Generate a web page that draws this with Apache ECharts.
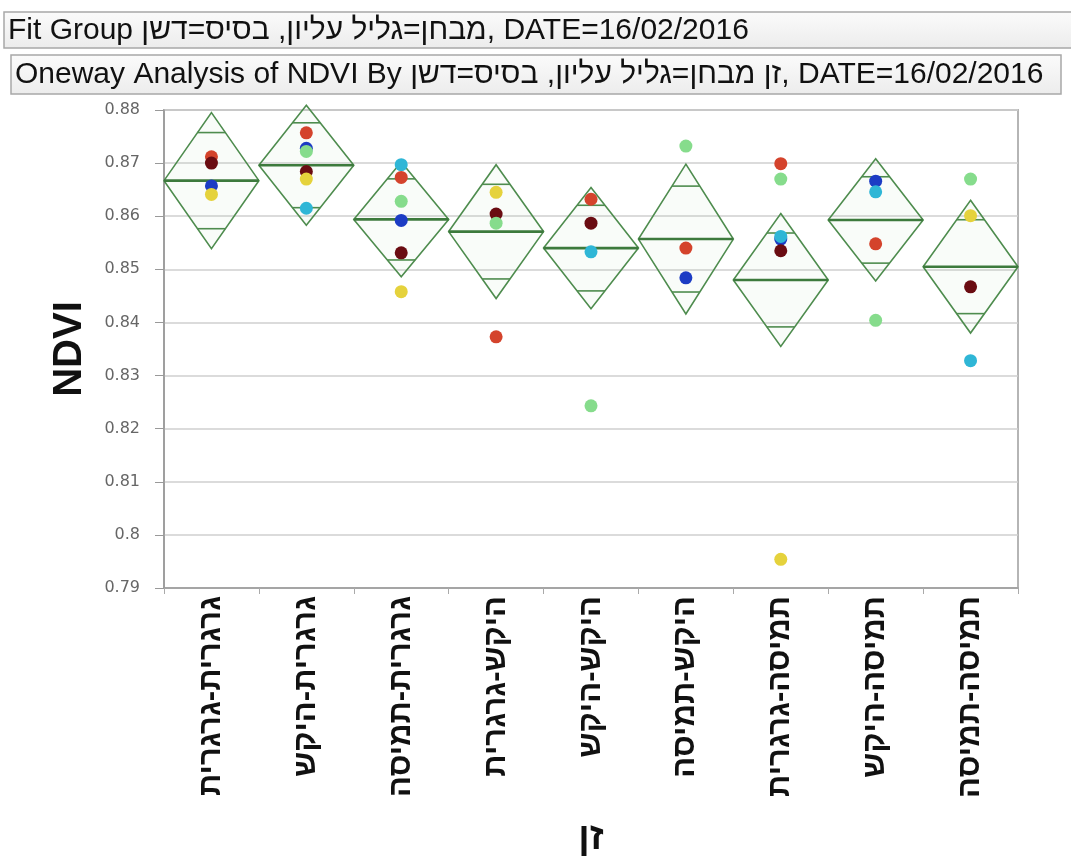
<!DOCTYPE html>
<html>
<head>
<meta charset="utf-8">
<title>Oneway Analysis of NDVI</title>
<script src="https://cdn.jsdelivr.net/npm/echarts@6/dist/echarts.min.js"></script>
</head>
<body style="margin:0;background:#fff">
<div id="main" style="width:1071px;height:863px"></div>
<script>
// groups (זן) on the x axis
var categories = ['גרגרית-גרגרית', 'גרגרית-היקש', 'גרגרית-תמיסה', 'היקש-גרגרית', 'היקש-היקש',
  'היקש-תמיסה', 'תמיסה-גרגרית', 'תמיסה-היקש', 'תמיסה-תמיסה'];

// means diamonds: group mean and 95% half-width
var groupMean = [0.8667, 0.8696, 0.8594, 0.8571, 0.8540, 0.8557, 0.8480, 0.8593, 0.8505];
var groupCI = [0.0128, 0.0113, 0.0108, 0.0126, 0.0114, 0.0141, 0.0125, 0.0115, 0.0125];

// NDVI points per colour, one entry per group (null = no point)
var blueVals = [0.8657, 0.8728, 0.8592, null, null, 0.8484, 0.8557, 0.8666, null];
var cyanVals = [null, 0.8615, 0.8697, null, 0.8533, null, 0.8562, 0.8646, 0.8328];
var redVals = [0.8712, 0.8757, 0.8673, 0.8373, 0.8632, 0.8540, 0.8699, 0.8548, null];
var darkRedVals = [0.8700, 0.8684, 0.8531, 0.8604, 0.8587, null, 0.8535, null, 0.8467];
var yellowVals = [0.8641, 0.8670, 0.8458, 0.8645, null, null, 0.7954, null, 0.8601];
var greenVals = [null, 0.8722, 0.8628, 0.8587, 0.8243, 0.8732, 0.8670, 0.8404, 0.8670];

var title1 = 'Fit Group מבחן=גליל עליון, בסיס=דשן, DATE=16/02/2016';
var title2 = 'Oneway Analysis of NDVI By זן מבחן=גליל עליון, בסיס=דשן, DATE=16/02/2016';

var chart = echarts.init(document.getElementById('main'));

function toPoints(vals) {
  var out = [];
  vals.forEach(function (v, i) {
    if (v != null) out.push([i, v]);
  });
  return out;
}

function pointSeries(vals, color) {
  return {
    type: 'scatter',
    data: toPoints(vals),
    symbolSize: 13,
    itemStyle: { color: color, opacity: 1 },
    z: 5
  };
}

function renderDiamond(params, api) {
  var i = api.value(0), m = api.value(1), h = api.value(2);
  var c = api.coord([i, m]);
  var top = api.coord([i, m + h])[1];
  var bot = api.coord([i, m - h])[1];
  var w = api.size([1, 0])[0] / 2;
  var k = h / Math.SQRT2;
  var ot = api.coord([i, m + k])[1];
  var ob = api.coord([i, m - k])[1];
  var ow = w * (1 - 1 / Math.SQRT2);
  var line = { stroke: '#4e8c4e', lineWidth: 1.6 };
  return {
    type: 'group',
    children: [
      { type: 'polygon', shape: { points: [[c[0], top], [c[0] + w, c[1]], [c[0], bot], [c[0] - w, c[1]]] },
        style: { fill: 'rgba(150,210,150,0.06)', stroke: '#4e8c4e', lineWidth: 1.6 } },
      { type: 'line', shape: { x1: c[0] - w, y1: c[1], x2: c[0] + w, y2: c[1] },
        style: { stroke: '#3d7a3d', lineWidth: 2.6 } },
      { type: 'line', shape: { x1: c[0] - ow, y1: ot, x2: c[0] + ow, y2: ot }, style: line },
      { type: 'line', shape: { x1: c[0] - ow, y1: ob, x2: c[0] + ow, y2: ob }, style: line }
    ]
  };
}

var diamonds = groupMean.map(function (m, i) { return [i, m, groupCI[i]]; });

var boxFill = function () {
  return new echarts.graphic.LinearGradient(0, 0, 0, 1, [{ offset: 0, color: '#fbfbfb' }, { offset: 1, color: '#ececec' }]);
};

chart.setOption({
  backgroundColor: '#fff',
  animation: false,
  graphic: [
    { type: 'rect', shape: { x: 4, y: 12, width: 1080, height: 36 },
      style: { fill: boxFill(), stroke: '#a8a8a8', lineWidth: 1.5 } },
    { type: 'text', x: 8, y: 31,
      style: { text: title1, font: '30px "Liberation Sans", sans-serif', fill: '#111', verticalAlign: 'middle' } },
    { type: 'rect', shape: { x: 11, y: 55, width: 1050, height: 39 },
      style: { fill: boxFill(), stroke: '#a8a8a8', lineWidth: 1.5 } },
    { type: 'text', x: 15, y: 75,
      style: { text: title2, font: '30px "Liberation Sans", sans-serif', fill: '#111', verticalAlign: 'middle' } }
  ],
  grid: { left: 164, right: 53, top: 110, bottom: 273, show: true, borderColor: '#b5b5b5', borderWidth: 2 },
  xAxis: {
    type: 'category',
    data: categories,
    name: 'זן',
    nameLocation: 'middle',
    nameGap: 232,
    nameTextStyle: { fontSize: 38, fontWeight: 'bold', color: '#111', fontFamily: 'Liberation Sans' },
    axisLine: { lineStyle: { color: '#999', width: 1.5 } },
    axisTick: { show: true, length: 6, lineStyle: { color: '#aaa' } },
    axisLabel: { rotate: 90, fontSize: 31, fontWeight: 'bold', color: '#111', margin: 8, fontFamily: 'Liberation Sans' },
    splitLine: { show: false }
  },
  yAxis: {
    type: 'value',
    min: 0.79,
    max: 0.88,
    interval: 0.01,
    name: 'NDVI',
    nameLocation: 'middle',
    nameRotate: 90,
    nameGap: 74,
    nameTextStyle: { fontSize: 40, fontWeight: 'bold', color: '#111', fontFamily: 'Liberation Sans' },
    axisLine: { show: true, lineStyle: { color: '#999', width: 1.5 } },
    axisTick: { show: true, length: 9, lineStyle: { color: '#999' } },
    axisLabel: {
      fontSize: 16, color: '#666', margin: 24, fontFamily: 'DejaVu Sans',
      formatter: function (v) { return String(+v.toFixed(2)); }
    },
    splitLine: { lineStyle: { color: '#cfcfcf', width: 1.5 } }
  },
  series: [
    { type: 'custom', renderItem: renderDiamond, data: diamonds, z: 3, clip: false },
    pointSeries(blueVals, '#1c3cc4'),
    pointSeries(cyanVals, '#2fb6d6'),
    pointSeries(redVals, '#d4432c'),
    pointSeries(darkRedVals, '#6a0c12'),
    pointSeries(yellowVals, '#e5d23c'),
    pointSeries(greenVals, '#86dc8c')
  ]
});
</script>
</body>
</html>
